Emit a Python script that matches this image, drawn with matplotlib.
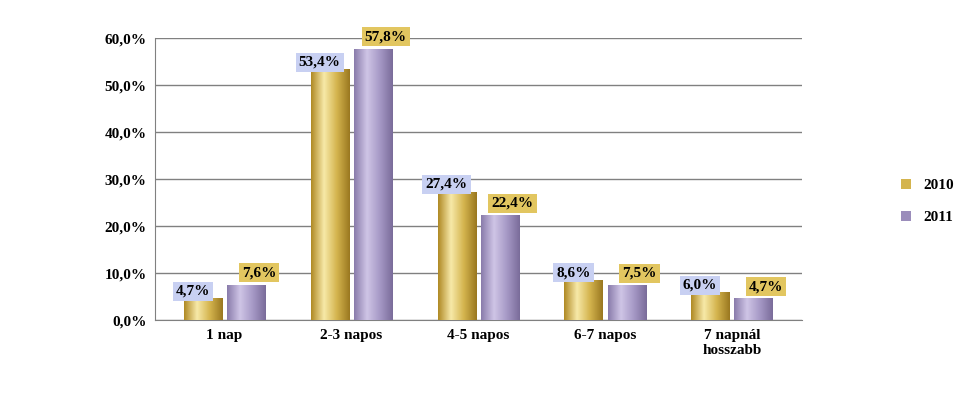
import matplotlib
matplotlib.use("Agg")
import matplotlib.pyplot as plt
import numpy as np

categories = ["1 nap", "2-3 napos", "4-5 napos", "6-7 napos", "7 napnál\nhosszabb"]
v2010 = [4.7, 53.4, 27.4, 8.6, 6.0]
v2011 = [7.6, 57.8, 22.4, 7.5, 4.7]
yticks = [0, 10, 20, 30, 40, 50, 60]

plt.rcParams["font.family"] = "Liberation Serif"
fig = plt.figure(figsize=(9.8, 4.03), dpi=100)
ax = fig.add_axes([0.158, 0.205, 0.66, 0.70])

x = np.arange(len(categories))
w = 0.3
gold = ["#b8922a", "#f6e6a0", "#c9a43c", "#8a6a18"]
purple = ["#7d6f9f", "#c9bfe0", "#9b8dbb", "#6a5c8a"]
from matplotlib.colors import LinearSegmentedColormap
cg = LinearSegmentedColormap.from_list("g", ["#b08a25", "#f7e9a8", "#d4b44e", "#9a7820"])
cp = LinearSegmentedColormap.from_list("p", ["#8a7cab", "#cfc5e6", "#a699c6", "#7a6c9a"])
grad = np.linspace(0, 1, 100).reshape(1, -1)

for vals, off, cmap in [(v2010, -w/2 - 0.02, cg), (v2011, w/2 + 0.02, cp)]:
    bars = ax.bar(x + off, vals, w, color="none", zorder=3)
    for b in bars:
        im = ax.imshow(grad, cmap=cmap, aspect="auto", zorder=3,
                       extent=[b.get_x(), b.get_x() + b.get_width(), 0, b.get_height()])
        im.set_clip_path(b)

for i in range(len(x)):
    ax.text(x[i] - w/2 - 0.1, v2010[i] + 1.5, f"{v2010[i]:.1f}%".replace(".", ","),
            ha="center", va="center", fontsize=11, fontweight="bold", zorder=5,
            bbox=dict(boxstyle="square,pad=0.2", fc="#c8d0f2", ec="none"))
    ax.text(x[i] + w/2 + 0.12, v2011[i] + 2.5, f"{v2011[i]:.1f}%".replace(".", ","),
            ha="center", va="center", fontsize=11, fontweight="bold", zorder=5,
            bbox=dict(boxstyle="square,pad=0.2", fc="#e2c660", ec="none"))

ax.set_xlim(-0.55, len(x) - 0.45)
ax.set_ylim(0, 60)
ax.set_yticks(yticks)
ax.set_yticklabels([f"{t:.1f}%".replace(".", ",") for t in yticks], fontsize=11, fontweight="bold")
ax.set_xticks(x)
ax.set_xticklabels(categories, fontsize=11, fontweight="bold")
ax.yaxis.grid(True, color="#808080", lw=1, zorder=0)
ax.tick_params(length=0, pad=6)
for s in ["top", "right"]:
    ax.spines[s].set_visible(False)
ax.spines["left"].set_color("#808080")
ax.spines["bottom"].set_color("#808080")

from matplotlib.patches import Patch
fig.legend(handles=[Patch(fc="#d4b44e", label="2010"), Patch(fc="#9b8dbb", label="2011")],
           loc="center left", bbox_to_anchor=(0.905, 0.5), frameon=False,
           prop={"size": 11, "weight": "bold"}, handlelength=0.7, handleheight=0.7,
           labelspacing=1.2)
fig.savefig("out.png", dpi=100)
